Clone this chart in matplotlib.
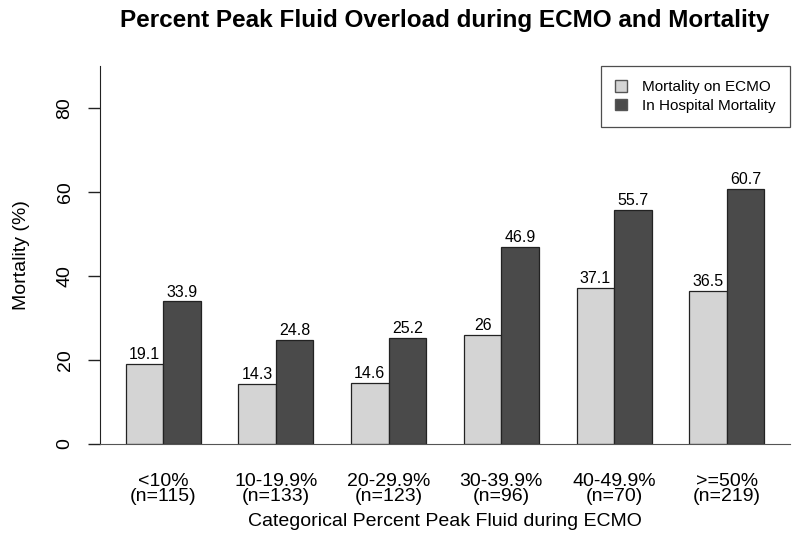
import matplotlib
matplotlib.use('Agg')
import matplotlib.pyplot as plt
import numpy as np
from matplotlib.patches import Patch

plt.rcParams['font.family'] = ['Liberation Sans', 'DejaVu Sans']

categories = ['<10%\n(n=115)', '10-19.9%\n(n=133)', '20-29.9%\n(n=123)',
              '30-39.9%\n(n=96)', '40-49.9%\n(n=70)', '>=50%\n(n=219)']
on_ecmo = [19.1, 14.3, 14.6, 26, 37.1, 36.5]
in_hospital = [33.9, 24.8, 25.2, 46.9, 55.7, 60.7]
on_ecmo_lbl = ['19.1', '14.3', '14.6', '26', '37.1', '36.5']
in_hospital_lbl = ['33.9', '24.8', '25.2', '46.9', '55.7', '60.7']

light = '#d4d4d4'
dark = '#4a4a4a'

fig = plt.figure(figsize=(8, 5.48), dpi=100)
ax = fig.add_axes([0.125, 0.19, 0.8625, 0.69])

# R style barplot, beside=TRUE, space=c(0,1)
idx = np.arange(len(categories))
left1 = 1 + 3 * idx
left2 = left1 + 1
b1 = ax.bar(left1, on_ecmo, width=1, align='edge', color=light,
            edgecolor='#222222', linewidth=0.9)
b2 = ax.bar(left2, in_hospital, width=1, align='edge', color=dark,
            edgecolor='#222222', linewidth=0.9)

for rect, s in zip(b1, on_ecmo_lbl):
    ax.text(rect.get_x() + 0.5, rect.get_height() + 0.4, s,
            ha='center', va='bottom', fontsize=11.5)
for rect, s in zip(b2, in_hospital_lbl):
    ax.text(rect.get_x() + 0.5, rect.get_height() + 0.4, s,
            ha='center', va='bottom', fontsize=11.5)

ax.set_xlim(0.32, 18.68)
ax.set_ylim(0, 90)
ax.spines['top'].set_visible(False)
ax.spines['right'].set_visible(False)
ax.spines['left'].set_color('#222222')
ax.spines['bottom'].set_color('#555555')

ax.set_yticks([0, 20, 40, 60, 80])
ax.set_yticklabels(['0', '20', '40', '60', '80'], rotation=90, va='center',
                   fontsize=14)
ax.tick_params(axis='y', length=9, width=1, pad=10, color='#222222')
ax.set_xticks(left1 + 1)
ax.set_xticklabels(categories, fontsize=14, linespacing=0.82)
ax.tick_params(axis='x', length=0, pad=21)

ax.set_ylabel('Mortality (%)', fontsize=14, labelpad=19)
ax.set_xlabel('Categorical Percent Peak Fluid during ECMO', fontsize=14,
              labelpad=6)
ax.set_title('Percent Peak Fluid Overload during ECMO and Mortality',
             fontsize=17.5, fontweight='bold', pad=28, x=0.5)

handles = [Patch(facecolor=light, edgecolor='#555555', label='Mortality on ECMO'),
           Patch(facecolor=dark, edgecolor='#555555', label='In Hospital Mortality')]
leg = ax.legend(handles=handles, loc='upper right', fontsize=11,
                frameon=True, fancybox=False, edgecolor='#222222',
                handlelength=0.75, handleheight=0.75, borderpad=0.95,
                labelspacing=0.3, handletextpad=1.0, borderaxespad=0,
                bbox_to_anchor=(1.0, 1.0))
leg.get_frame().set_linewidth(0.9)

fig.savefig('out.png', dpi=100)
